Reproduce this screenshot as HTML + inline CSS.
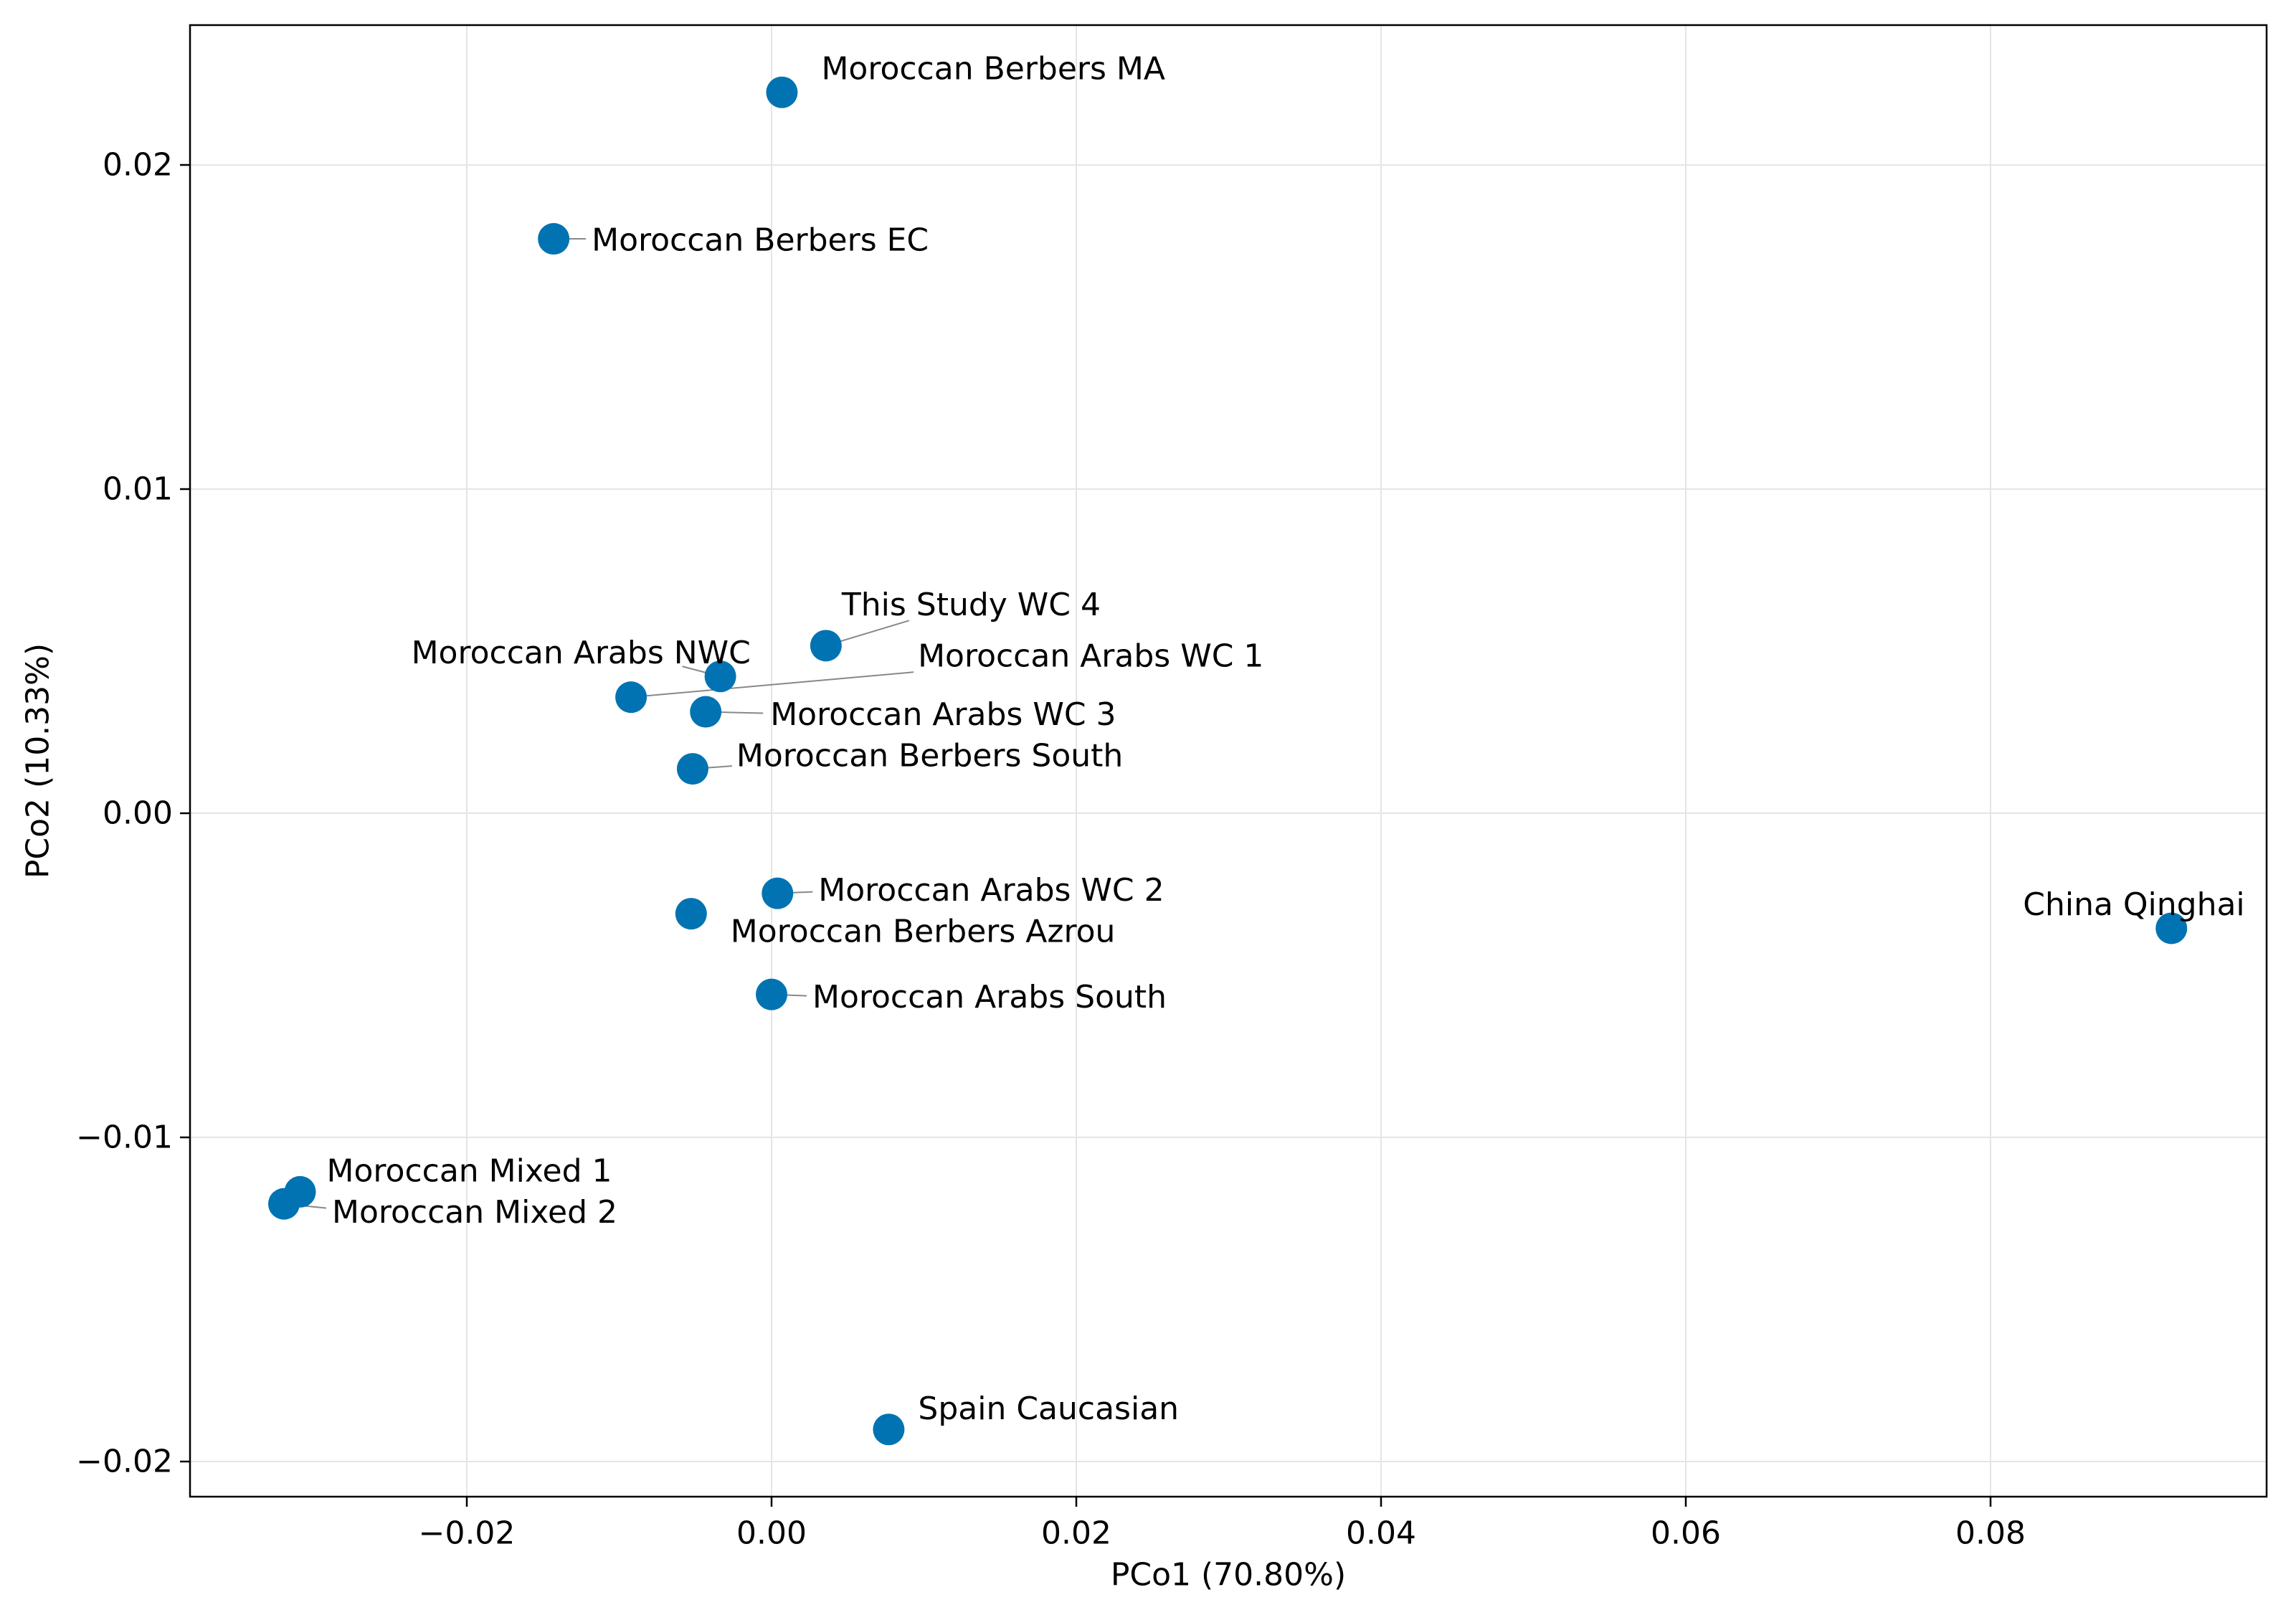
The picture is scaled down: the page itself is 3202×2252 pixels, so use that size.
<!DOCTYPE html>
<html><head><meta charset="utf-8"><style>
html,body{margin:0;padding:0;background:#fff;}
svg text{font-family:"DejaVu Sans","Liberation Sans",sans-serif;fill:#000;}
</style></head><body>
<svg id="chart" xmlns="http://www.w3.org/2000/svg" width="3202" height="2247" viewBox="0 0 3202 2247">
<rect width="3202" height="2247" fill="#fff"/>
<g id="grid"></g>
<g id="leaders"></g>
<g id="points"></g>
<g id="labels"></g>
<rect x="265" y="35" width="2896" height="2052" fill="none" stroke="#000" stroke-width="2.5"/>
<g id="ticks"></g>
<text x="1713" y="2196" font-size="44" text-anchor="middle" dominant-baseline="central">PCo1 (70.80%)</text>
<text x="53" y="1061" font-size="44" text-anchor="middle" dominant-baseline="central" transform="rotate(-90 53 1061)">PCo2 (10.33%)</text>
</svg>
<script>
const names = ["Moroccan Berbers MA","Moroccan Berbers EC","This Study WC 4","Moroccan Arabs WC 1","Moroccan Arabs NWC","Moroccan Arabs WC 3","Moroccan Berbers South","Moroccan Arabs WC 2","Moroccan Berbers Azrou","Moroccan Arabs South","Moroccan Mixed 1","Moroccan Mixed 2","Spain Caucasian","China Qinghai"];
const pco1 = [0.00068,-0.0143,0.00357,-0.00922,-0.00336,-0.00432,-0.00518,0.00039,-0.00528,0.0,-0.03094,-0.0320,0.00769,0.09187];
const pco2 = [0.02224,0.01772,0.00517,0.00358,0.00422,0.00313,0.00137,-0.00247,-0.00310,-0.00559,-0.01168,-0.01205,-0.01901,-0.00355];
const xTicks = [-0.02,0.00,0.02,0.04,0.06,0.08];
const xTickLabels = ["\u22120.02","0.00","0.02","0.04","0.06","0.08"];
const yTicks = [-0.02,-0.01,0.00,0.01,0.02];
const yTickLabels = ["\u22120.02","\u22120.01","0.00","0.01","0.02"];
// label layout offsets (px) and leader end offsets (px, relative to point)
const labelDX = [55,53,22,400,-431,90,61,57,55,57,37,67,41,-207];
const labelDY = [-33,2,-57,-57,-33,4,-18,-4,25,4,-29,12,-29,-33];
const leadDX = [null,45,116,394,-53,80,55,49,null,49,null,59,null,null];
const leadDY = [null,0,-35,-35,-14,2,-4,-2,null,2,null,6,null,null];

const L=265,R=3161,T=35,B=2087;
const X0=1076, XS=21250, Y0=1134, YS=45200;
const xs=v=>X0+v*XS, ys=v=>Y0-v*YS;
const NS="http://www.w3.org/2000/svg";
function mk(tag,attrs,parent){const e=document.createElementNS(NS,tag);for(const k in attrs)e.setAttribute(k,attrs[k]);parent.appendChild(e);return e;}
const grid=document.getElementById('grid'),ticks=document.getElementById('ticks');
xTicks.forEach((v,i)=>{const x=xs(v);
 const g=mk('line',{x1:x,x2:x,y1:T,y2:B,stroke:'#e5e5e5','stroke-width':2},grid);
 
 
 const t=mk('line',{x1:x,x2:x,y1:B,y2:B+14,stroke:'#000','stroke-width':2.5},ticks);
 
 
 const l=mk('text',{x:x,y:2138,'font-size':44,'text-anchor':'middle','dominant-baseline':'central'},ticks);
 l.textContent=xTickLabels[i];
 
 
});
yTicks.forEach((v,i)=>{const y=ys(v);
 const g=mk('line',{x1:L,x2:R,y1:y,y2:y,stroke:'#e5e5e5','stroke-width':2},grid);
 
 
 const t=mk('line',{x1:L-14,x2:L,y1:y,y2:y,stroke:'#000','stroke-width':2.5},ticks);
 
 
 const l=mk('text',{x:L-24,y:y,'font-size':44,'text-anchor':'end','dominant-baseline':'central'},ticks);
 l.textContent=yTickLabels[i];
 
 
});
const pg=document.getElementById('points'),lg=document.getElementById('labels'),ld=document.getElementById('leaders');
names.forEach((n,i)=>{
 const cx=xs(pco1[i]),cy=ys(pco2[i]);
 const tx=cx+labelDX[i],ty=cy+labelDY[i];
 if(leadDX[i]!==null){
  const ln=mk('line',{x1:cx,y1:cy,x2:cx+leadDX[i],y2:cy+leadDY[i],stroke:'#888','stroke-width':2},ld);
  
  
 }
 const c=mk('circle',{cx:cx,cy:cy,r:22,fill:'#0173b2'},pg);
 
 
 const t=mk('text',{x:tx,y:ty,'font-size':44,'dominant-baseline':'central'},lg);
 t.textContent=n;
 
 
});
</script>
</body></html>
